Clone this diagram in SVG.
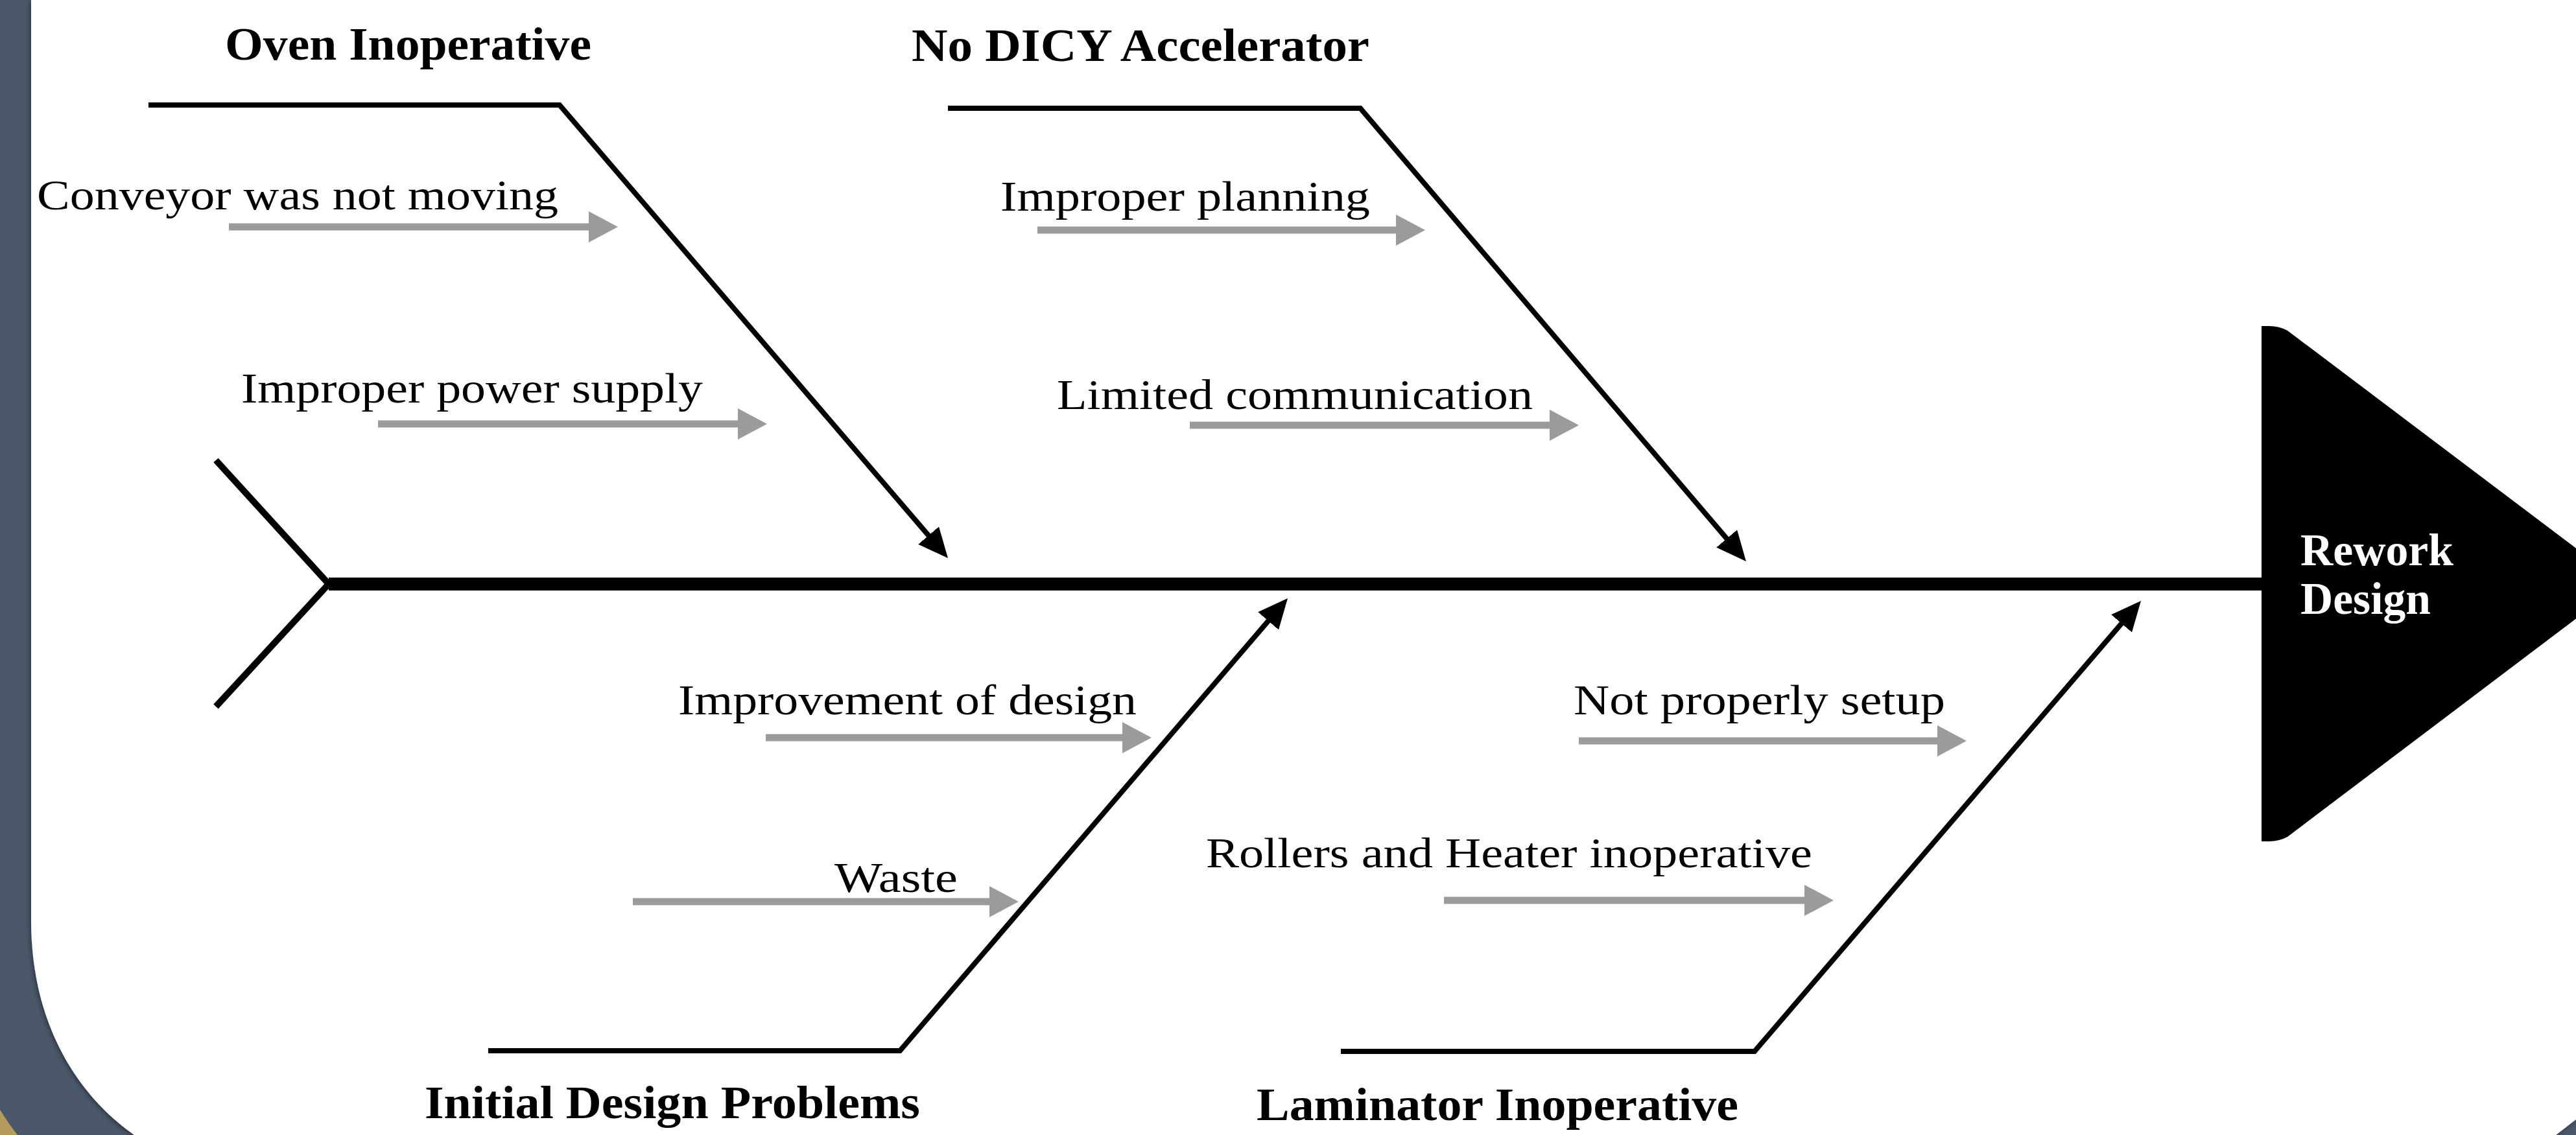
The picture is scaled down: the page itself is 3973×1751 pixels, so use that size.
<svg xmlns="http://www.w3.org/2000/svg" width="3973" height="1751" viewBox="0 0 3973 1751">
  <defs>
    <style>
      .bone { fill: none; stroke: #000; stroke-width: 8; stroke-linejoin: miter; }
      .tail { fill: none; stroke: #000; stroke-width: 10; }
      .spine { stroke: #000; stroke-width: 20; }
      .cause { fill: none; stroke: #9b9b9b; stroke-width: 11; }
      .title { font-family: "Liberation Serif", "Times New Roman", serif; font-weight: bold; font-size: 72px; fill: #000; }
      .label { font-family: "Liberation Serif", "Times New Roman", serif; font-size: 66px; fill: #000; }
      .effect { font-family: "Liberation Serif", "Times New Roman", serif; font-weight: bold; font-size: 69px; fill: #fff; }
    </style>
    <marker id="bone-head" markerUnits="userSpaceOnUse" viewBox="0 0 46 42" refX="36" refY="21" markerWidth="46" markerHeight="42" orient="auto">
      <path d="M0,0 L46,21 L0,42 Z" fill="#000"/>
    </marker>
    <marker id="cause-head" markerUnits="userSpaceOnUse" viewBox="0 0 45 48" refX="2" refY="24" markerWidth="45" markerHeight="48" orient="auto">
      <path d="M0,0 L45,24 L0,48 Z" fill="#9b9b9b"/>
    </marker>
    <filter id="card-shadow" x="-5%" y="-5%" width="110%" height="110%">
      <feDropShadow dx="-2" dy="2" stdDeviation="3" flood-color="#1c242e" flood-opacity="0.7"/>
    </filter>
  </defs>

  <!-- slide background -->
  <rect x="0" y="0" width="3973" height="1751" fill="#4b5869"/>
  <path d="M0,1712 Q12,1732 27,1751 L0,1751 Z" fill="#b59b5c"/>

  <!-- white card with rounded lower corners -->
  <path d="M48,0 H3973 V1727 L3942,1751 H207 C120,1690 48,1580 48,1420 Z" fill="#fff" filter="url(#card-shadow)"/>

  <!-- connectors: spine, tail, category bones and cause arrows -->
  <g id="connectors">
    <line class="spine" x1="507" y1="901" x2="3492" y2="901"/>
    <path class="tail" d="M333,710 L507,901 L333,1090"/>

    <path class="bone" d="M229,162 H863 L1455.5,853.4" marker-end="url(#bone-head)"/>
    <path class="bone" d="M1462,167 H2098 L2686.5,858.4" marker-end="url(#bone-head)"/>
    <path class="bone" d="M753,1621 H1388 L1979.5,930.6" marker-end="url(#bone-head)"/>
    <path class="bone" d="M2068,1622 H2706 L3295.5,934.6" marker-end="url(#bone-head)"/>

    <line class="cause" x1="353" y1="350" x2="910" y2="350" marker-end="url(#cause-head)"/>
    <line class="cause" x1="583" y1="654" x2="1140" y2="654" marker-end="url(#cause-head)"/>
    <line class="cause" x1="1600" y1="355" x2="2155" y2="355" marker-end="url(#cause-head)"/>
    <line class="cause" x1="1835" y1="656" x2="2392" y2="656" marker-end="url(#cause-head)"/>
    <line class="cause" x1="1181" y1="1138" x2="1733" y2="1138" marker-end="url(#cause-head)"/>
    <line class="cause" x1="976" y1="1391" x2="1528" y2="1391" marker-end="url(#cause-head)"/>
    <line class="cause" x1="2435" y1="1143" x2="2990" y2="1143" marker-end="url(#cause-head)"/>
    <line class="cause" x1="2227" y1="1389" x2="2785" y2="1389" marker-end="url(#cause-head)"/>
  </g>

  <!-- category: Oven Inoperative -->
  <g id="oven-inoperative">
    <text class="title" x="347" y="92" textLength="565" lengthAdjust="spacingAndGlyphs">Oven Inoperative</text>
    <text class="label" x="57" y="323" textLength="804" lengthAdjust="spacingAndGlyphs">Conveyor was not moving</text>
    <text class="label" x="372" y="621" textLength="712" lengthAdjust="spacingAndGlyphs">Improper power supply</text>
  </g>

  <!-- category: No DICY Accelerator -->
  <g id="no-dicy-accelerator">
    <text class="title" x="1406" y="94" textLength="706" lengthAdjust="spacingAndGlyphs">No DICY Accelerator</text>
    <text class="label" x="1543" y="325" textLength="570" lengthAdjust="spacingAndGlyphs">Improper planning</text>
    <text class="label" x="1630" y="631" textLength="734" lengthAdjust="spacingAndGlyphs">Limited communication</text>
  </g>

  <!-- category: Initial Design Problems -->
  <g id="initial-design-problems">
    <text class="title" x="655" y="1725" textLength="764" lengthAdjust="spacingAndGlyphs">Initial Design Problems</text>
    <text class="label" x="1046" y="1102" textLength="707" lengthAdjust="spacingAndGlyphs">Improvement of design</text>
    <text class="label" x="1287" y="1376" textLength="190" lengthAdjust="spacingAndGlyphs">Waste</text>
  </g>

  <!-- category: Laminator Inoperative -->
  <g id="laminator-inoperative">
    <text class="title" x="1938" y="1728" textLength="743" lengthAdjust="spacingAndGlyphs">Laminator Inoperative</text>
    <text class="label" x="2427" y="1102" textLength="573" lengthAdjust="spacingAndGlyphs">Not properly setup</text>
    <text class="label" x="1860" y="1338" textLength="935" lengthAdjust="spacingAndGlyphs">Rollers and Heater inoperative</text>
  </g>

  <!-- effect: fish head -->
  <g id="rework-design">
    <path d="M3488,503 L3500,503 Q3515,503 3528,510 L4045,900 L3528,1291 Q3515,1298 3500,1298 L3488,1298 Z" fill="#000"/>
    <text class="effect" x="3548" y="872" textLength="236" lengthAdjust="spacingAndGlyphs">Rework</text>
    <text class="effect" x="3548" y="947" textLength="201" lengthAdjust="spacingAndGlyphs">Design</text>
  </g>
</svg>
